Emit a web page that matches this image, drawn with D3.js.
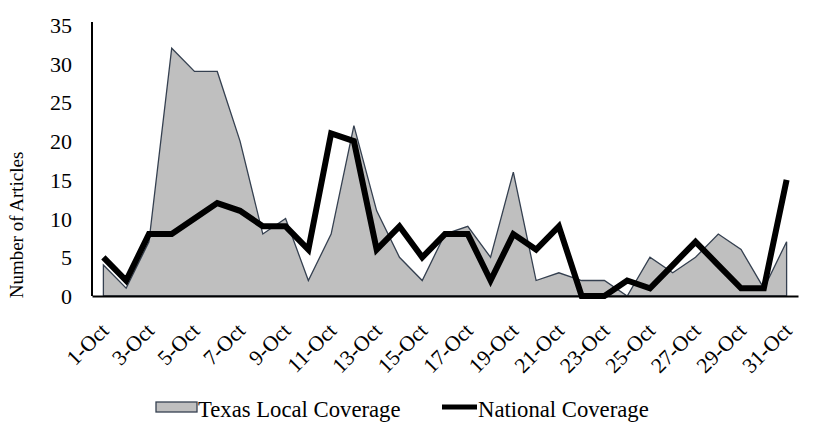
<!DOCTYPE html>
<html>
<head>
<meta charset="utf-8">
<script src="https://cdn.jsdelivr.net/npm/d3@7"></script>
<style>
  html, body { margin: 0; padding: 0; background: #fff; }
  svg text { font-family: "Liberation Serif", "Times New Roman", serif; fill: #000; }
</style>
</head>
<body>
<svg id="chart" width="818" height="435"></svg>
<script>
// data
const days = d3.range(1, 32).map(function (d) { return d + '-Oct'; });
const texasLocal = [4, 1, 7, 32, 29, 29, 20, 8, 10, 2, 8, 22, 11, 5, 2, 8, 9, 5, 16, 2, 3, 2, 2, 0, 5, 3, 5, 8, 6, 1, 7];
const national = [5, 2, 8, 8, 10, 12, 11, 9, 9, 6, 21, 20, 6, 9, 5, 8, 8, 2, 8, 6, 9, 0, 0, 2, 1, 4, 7, 4, 1, 1, 15];
const yTicks = [0, 5, 10, 15, 20, 25, 30, 35];
const seriesNames = ['Texas Local Coverage', 'National Coverage'];

const FILL_GRAY = '#bfbfbf';
const OUTLINE = '#354050';

const svg = d3.select('#chart');

const x = d3.scalePoint().domain(days).range([92, 798]).padding(0.5);
const y = d3.scaleLinear().domain([0, 35]).range([296, 25]);

// local coverage area
const area = d3.area()
    .x(function (d, i) { return x(days[i]); })
    .y0(y(0))
    .y1(function (d) { return y(d); });

svg.append('path')
    .datum(texasLocal)
    .attr('d', area)
    .attr('fill', FILL_GRAY)
    .attr('stroke', OUTLINE)
    .attr('stroke-width', 1.3);

// national coverage line
const line = d3.line()
    .x(function (d, i) { return x(days[i]); })
    .y(function (d) { return y(d); });

svg.append('path')
    .datum(national)
    .attr('d', line)
    .attr('fill', 'none')
    .attr('stroke', '#000')
    .attr('stroke-width', 6)
    .attr('stroke-linejoin', 'miter');

// y axis
const yAxis = svg.append('g')
    .attr('transform', 'translate(92,0)')
    .call(d3.axisLeft(y).tickValues(yTicks).tickSize(0).tickSizeOuter(0).tickPadding(20));
yAxis.select('.domain').attr('stroke', '#000').attr('stroke-width', 2)
    .attr('d', 'M0,' + y(0) + 'V22');
yAxis.selectAll('text')
    .style('font-family', '"Liberation Serif", serif')
    .style('font-size', '22px')
    .attr('dy', '0.34em');

// x axis
const xAxis = svg.append('g')
    .attr('transform', 'translate(0,' + y(0) + ')')
    .call(d3.axisBottom(x)
        .tickValues(days.filter(function (d, i) { return i % 2 === 0; }))
        .tickSize(0).tickSizeOuter(0));
xAxis.select('.domain').attr('stroke', '#000').attr('stroke-width', 2);
xAxis.selectAll('text')
    .style('font-family', '"Liberation Serif", serif')
    .style('font-size', '21.5px')
    .attr('text-anchor', 'end')
    .attr('x', 0).attr('y', 0).attr('dy', 0)
    .attr('transform', 'translate(6,36) rotate(-45)');

// y title
svg.append('text')
    .attr('transform', 'translate(23,225) rotate(-90)')
    .attr('text-anchor', 'middle')
    .style('font-size', '19px')
    .text('Number of Articles');

// legend
const legend = svg.append('g');
legend.append('rect')
    .attr('x', 156).attr('y', 402).attr('width', 41).attr('height', 10)
    .attr('fill', FILL_GRAY).attr('stroke', OUTLINE).attr('stroke-width', 1.3);
legend.append('text')
    .attr('x', 198).attr('y', 417)
    .style('font-size', '22.7px')
    .text(seriesNames[0]);
legend.append('line')
    .attr('x1', 442).attr('x2', 477).attr('y1', 407).attr('y2', 407)
    .attr('stroke', '#000').attr('stroke-width', 5);
legend.append('text')
    .attr('x', 478).attr('y', 417)
    .style('font-size', '22.7px')
    .text(seriesNames[1]);
</script>
</body>
</html>
